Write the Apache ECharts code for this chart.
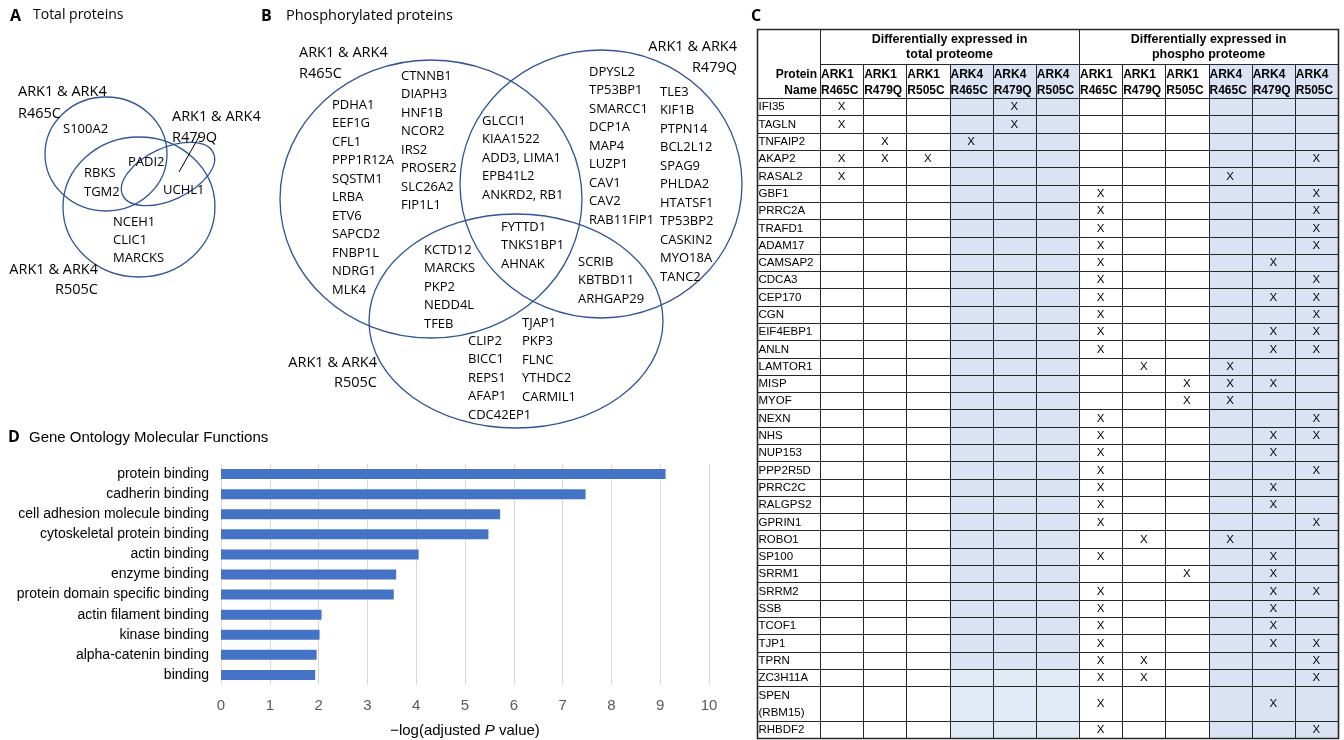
<!DOCTYPE html>
<html>
<head>
<meta charset="utf-8">
<script src="https://cdn.jsdelivr.net/npm/echarts@6/dist/echarts.min.js"></script>
<style>
  html, body { margin: 0; padding: 0; background: #fff; }
  #main { width: 1344px; height: 740px; }
</style>
</head>
<body>
<div id="main"></div>
<script>
// ---- panel A: total proteins venn ----
const aOnly465 = ['S100A2'];
const aAll3 = ['PADI2'];
const a465and505 = ['RBKS', 'TGM2'];
const a479and505 = ['UCHL1'];
const aOnly505 = ['NCEH1', 'CLIC1', 'MARCKS'];

// ---- panel B: phosphorylated proteins venn ----
const bOnly465a = ['PDHA1', 'EEF1G', 'CFL1', 'PPP1R12A', 'SQSTM1', 'LRBA', 'ETV6', 'SAPCD2', 'FNBP1L', 'NDRG1', 'MLK4'];
const bOnly465b = ['CTNNB1', 'DIAPH3', 'HNF1B', 'NCOR2', 'IRS2', 'PROSER2', 'SLC26A2', 'FIP1L1'];
const b465and479 = ['GLCCI1', 'KIAA1522', 'ADD3, LIMA1', 'EPB41L2', 'ANKRD2, RB1'];
const bOnly479a = ['DPYSL2', 'TP53BP1', 'SMARCC1', 'DCP1A', 'MAP4', 'LUZP1', 'CAV1', 'CAV2', 'RAB11FIP1'];
const bOnly479b = ['TLE3', 'KIF1B', 'PTPN14', 'BCL2L12', 'SPAG9', 'PHLDA2', 'HTATSF1', 'TP53BP2', 'CASKIN2', 'MYO18A', 'TANC2'];
const bAll3 = ['FYTTD1', 'TNKS1BP1', 'AHNAK'];
const b465and505 = ['KCTD12', 'MARCKS', 'PKP2', 'NEDD4L', 'TFEB'];
const b479and505 = ['SCRIB', 'KBTBD11', 'ARHGAP29'];
const bOnly505a = ['CLIP2', 'BICC1', 'REPS1', 'AFAP1', 'CDC42EP1'];
const bOnly505b = ['TJAP1', 'PKP3', 'FLNC', 'YTHDC2', 'CARMIL1'];

// ---- panel C: table ----
const colGroups = ['Differentially expressed in\ntotal proteome', 'Differentially expressed in\nphospho proteome'];
const colHeads = ['ARK1\nR465C', 'ARK1\nR479Q', 'ARK1\nR505C', 'ARK4\nR465C', 'ARK4\nR479Q', 'ARK4\nR505C',
                  'ARK1\nR465C', 'ARK1\nR479Q', 'ARK1\nR505C', 'ARK4\nR465C', 'ARK4\nR479Q', 'ARK4\nR505C'];
const proteins = ['IFI35', 'TAGLN', 'TNFAIP2', 'AKAP2', 'RASAL2', 'GBF1', 'PRRC2A', 'TRAFD1', 'ADAM17', 'CAMSAP2',
  'CDCA3', 'CEP170', 'CGN', 'EIF4EBP1', 'ANLN', 'LAMTOR1', 'MISP', 'MYOF', 'NEXN', 'NHS', 'NUP153', 'PPP2R5D',
  'PRRC2C', 'RALGPS2', 'GPRIN1', 'ROBO1', 'SP100', 'SRRM1', 'SRRM2', 'SSB', 'TCOF1', 'TJP1', 'TPRN', 'ZC3H11A',
  'SPEN\n(RBM15)', 'RHBDF2'];
// column indexes marked with X for each protein
const marks = [[0, 4], [0, 4], [1, 3], [0, 1, 2, 11], [0, 9], [6, 11], [6, 11], [6, 11], [6, 11], [6, 10],
  [6, 11], [6, 10, 11], [6, 11], [6, 10, 11], [6, 10, 11], [7, 9], [8, 9, 10], [8, 9], [6, 11], [6, 10, 11], [6, 10], [6, 11],
  [6, 10], [6, 10], [6, 11], [7, 9], [6, 10], [8, 10], [6, 10, 11], [6, 10], [6, 10], [6, 10, 11], [6, 7, 11], [6, 7, 11],
  [6, 10], [6, 11]];

// ---- panel D: GO bar chart ----
const goTerms = ['protein binding', 'cadherin binding', 'cell adhesion molecule binding', 'cytoskeletal protein binding',
  'actin binding', 'enzyme binding', 'protein domain specific binding', 'actin filament binding', 'kinase binding',
  'alpha-catenin binding', 'binding'];
const goScores = [9.11, 7.47, 5.72, 5.48, 4.05, 3.59, 3.54, 2.06, 2.02, 1.96, 1.93];

var myChart = echarts.init(document.getElementById('main'));

const VENN_FONT = "'Open Sans', 'Noto Sans', sans-serif";
const NARROW = "'Liberation Sans Narrow', 'Liberation Sans', sans-serif";
const TABLE_FONT = "'Liberation Sans', Arial, sans-serif";
const BLUE = '#2f5597';

function ellipse(cx, cy, rx, ry, deg) {
  return {
    type: 'ellipse', x: cx, y: cy, rotation: -(deg || 0) * Math.PI / 180,
    shape: { cx: 0, cy: 0, rx: rx, ry: ry },
    style: { fill: 'none', stroke: BLUE, lineWidth: 1.3 }
  };
}
// first line centred on y
function block(lines, x, y, lh, align, size) {
  return {
    type: 'text', x: x, y: y - lh / 2,
    style: {
      text: lines.join('\n'), fontFamily: VENN_FONT, fontSize: size || 13, fill: '#000',
      lineHeight: lh, align: align || 'left', verticalAlign: 'top'
    }
  };
}
function setLabel(x, y, lh, align, mutation) {
  return block(['ARK1 & ARK4', mutation], x, y, lh, align, 14.5);
}

let graphics = [
  // titles
  { type: 'text', x: 10, y: 8, style: { text: 'A', fontFamily: VENN_FONT, fontWeight: 'bold', fontSize: 16, fill: '#000' } },
  { type: 'text', x: 33, y: 8, style: { text: 'Total proteins', fontFamily: VENN_FONT, fontSize: 14, fill: '#000' } },
  { type: 'text', x: 261, y: 8, style: { text: 'B', fontFamily: VENN_FONT, fontWeight: 'bold', fontSize: 16, fill: '#000' } },
  { type: 'text', x: 286, y: 8, style: { text: 'Phosphorylated proteins', fontFamily: VENN_FONT, fontSize: 14.5, fill: '#000' } },
  { type: 'text', x: 751, y: 8, style: { text: 'C', fontFamily: VENN_FONT, fontWeight: 'bold', fontSize: 16, fill: '#000' } },
  { type: 'text', x: 8, y: 429, style: { text: 'D', fontFamily: VENN_FONT, fontWeight: 'bold', fontSize: 16, fill: '#000' } },
  { type: 'text', x: 29, y: 430, style: { text: 'Gene Ontology Molecular Functions', fontFamily: NARROW, fontSize: 15, fill: '#000' } },

  // venn A
  ellipse(106, 154, 61, 57),
  ellipse(139, 207, 76, 70),
  ellipse(168, 174, 50, 26, -25),
  { type: 'line', shape: { x1: 200, y1: 135, x2: 179, y2: 172 }, style: { stroke: '#000', lineWidth: 1 } },
  setLabel(18, 92, 22, 'left', 'R465C'),
  setLabel(172, 117, 21, 'left', 'R479Q'),
  setLabel(98, 270, 20, 'right', 'R505C'),
  block(aOnly465, 63, 129, 19),
  block(aAll3, 128, 162, 19),
  block(a465and505, 84, 173, 19),
  block(a479and505, 163, 190, 19),
  block(aOnly505, 113, 222, 18),

  // venn B
  ellipse(431, 199, 151, 139),
  ellipse(601, 184, 141, 134),
  ellipse(516, 321, 147, 107),
  setLabel(299, 53, 21, 'left', 'R465C'),
  setLabel(737, 47, 21, 'right', 'R479Q'),
  setLabel(377, 363, 20, 'right', 'R505C'),
  block(bOnly465a, 332, 105, 18.5),
  block(bOnly465b, 401, 76, 18.5),
  block(b465and479, 482, 121, 18.5),
  block(bOnly479a, 589, 72, 18.5),
  block(bOnly479b, 660, 92, 18.5),
  block(bAll3, 501, 227, 18.5),
  block(b465and505, 424, 250, 18.5),
  block(b479and505, 578, 262, 18.5),
  block(bOnly505a, 468, 341, 18.5),
  block(bOnly505b, 522, 323, 18.5)
];

// table rows: start/end in row units (header occupies -4..0)
const NAME_W = 1.46;
let rowData = [];
let acc = 0;
proteins.forEach(function (p, i) {
  const span = p.indexOf('\n') >= 0 ? 2 : 1;
  rowData.push([i, acc, acc + span]);
  acc += span;
});
const TOTAL_ROWS = acc;
const LINE = '#262626';
const SHADE = '#dae3f3';
const SHADE_LIGHT = '#e1ebf6';

function cellRect(x0, y0, x1, y1, api, fill, lw) {
  const a = api.coord([x0, y0]), b = api.coord([x1, y1]);
  return {
    type: 'rect',
    shape: { x: Math.round(a[0]) + 0.5, y: Math.round(a[1]) + 0.5, width: Math.round(b[0]) - Math.round(a[0]), height: Math.round(b[1]) - Math.round(a[1]) },
    style: { fill: fill, stroke: LINE, lineWidth: lw || 1 }
  };
}

function renderRow(params, api) {
  const i = api.value(0), y0 = api.value(1), y1 = api.value(2);
  const kids = [];
  kids.push(cellRect(-NAME_W, y0, 0, y1, api, '#fff'));
  const a = api.coord([-NAME_W, y0]), b = api.coord([0, y1]);
  kids.push({
    type: 'text', x: a[0] + 1.5, y: (a[1] + b[1]) / 2 + 0.5,
    style: { text: proteins[i], fontFamily: TABLE_FONT, fontSize: 11.5, fill: '#000', align: 'left', verticalAlign: 'middle', lineHeight: 17 }
  });
  for (let c = 0; c < colHeads.length; c++) {
    let fill = '#fff';
    if (colHeads[c].indexOf('ARK4') === 0) {
      fill = (c < 6 && i >= proteins.indexOf('ZC3H11A')) ? SHADE_LIGHT : SHADE;
    }
    kids.push(cellRect(c, y0, c + 1, y1, api, fill));
    if (marks[i].indexOf(c) >= 0) {
      const p = api.coord([c + 0.5, (y0 + y1) / 2]);
      kids.push({
        type: 'text', x: p[0], y: p[1] + 0.5,
        style: { text: 'X', fontFamily: TABLE_FONT, fontSize: 11.5, fill: '#000', align: 'center', verticalAlign: 'middle' }
      });
    }
  }
  return { type: 'group', children: kids };
}

function renderHeader(params, api) {
  const c = api.value(0);
  const kids = [];
  const bold = { fontFamily: TABLE_FONT, fontSize: 12.5, fontWeight: 'bold', fill: '#000', lineHeight: 15.5 };
  const shaded = colHeads[c].indexOf('ARK4') === 0;
  kids.push(cellRect(c, -2, c + 1, 0, api, shaded ? SHADE : '#fff'));
  const p = api.coord([c, -1]);
  kids.push({ type: 'text', x: p[0] + 1, y: p[1] + 2, style: Object.assign({ text: colHeads[c], align: 'left', verticalAlign: 'middle', fontSize: 12 }, bold, { fontSize: 12 }) });
  if (c % 6 === 0) {
    kids.push(cellRect(c, -4, c + 6, -2, api, '#fff'));
    const g = api.coord([c + 3, -3]);
    kids.push({ type: 'text', x: g[0], y: g[1] + 1, style: Object.assign({ text: colGroups[c / 6], align: 'center', verticalAlign: 'middle' }, bold) });
  }
  if (c === 0) {
    kids.push(cellRect(-NAME_W, -4, 0, 0, api, '#fff'));
    const n = api.coord([0, -1]);
    kids.push({ type: 'text', x: n[0] - 3, y: n[1] + 2, style: Object.assign({ text: 'Protein\nName', align: 'right', verticalAlign: 'middle' }, bold, { fontSize: 12 }) });
    // outer frame
    kids.push(Object.assign(cellRect(-NAME_W, -4, 12, TOTAL_ROWS, api, 'none', 1.6), { z2: 10 }));
  }
  return { type: 'group', children: kids };
}

let option = {
  animation: false,
  graphic: graphics,
  grid: [
    { left: 221, top: 464, width: 488, height: 221, containLabel: false },
    { left: 757, top: 29, width: 581, height: 709, containLabel: false }
  ],
  xAxis: [
    {
      gridIndex: 0, type: 'value', min: 0, max: 10, interval: 1,
      axisLine: { show: false }, axisTick: { show: false },
      axisLabel: { color: '#595959', fontFamily: NARROW, fontSize: 15, margin: 13 },
      splitLine: { lineStyle: { color: '#d9d9d9', width: 1 } },
      name: '{a|\u2212log(adjusted }{i|P}{a| value)}',
      nameLocation: 'middle', nameGap: 38,
      nameTextStyle: {
        rich: {
          a: { fontFamily: NARROW, fontSize: 15, color: '#000' },
          i: { fontFamily: NARROW, fontSize: 15, color: '#000', fontStyle: 'italic' }
        }
      }
    },
    { gridIndex: 1, type: 'value', min: -NAME_W, max: 12, show: false }
  ],
  yAxis: [
    {
      gridIndex: 0, type: 'category', data: goTerms, inverse: true,
      axisLine: { show: false }, axisTick: { show: false },
      axisLabel: { color: '#000', fontFamily: NARROW, fontSize: 14, margin: 12 }
    },
    { gridIndex: 1, type: 'value', min: -4, max: TOTAL_ROWS, inverse: true, show: false }
  ],
  series: [
    {
      type: 'bar', xAxisIndex: 0, yAxisIndex: 0, data: goScores, barWidth: 10,
      itemStyle: { color: '#4472c4' }
    },
    {
      type: 'custom', xAxisIndex: 1, yAxisIndex: 1, renderItem: renderRow, data: rowData, z: 2
    },
    {
      type: 'custom', xAxisIndex: 1, yAxisIndex: 1, renderItem: renderHeader,
      data: colHeads.map(function (h, c) { return [c, -2]; }), z: 3
    }
  ]
};

myChart.setOption(option);
window.addEventListener('resize', function () {
  myChart.resize();
});
</script>
</body>
</html>
